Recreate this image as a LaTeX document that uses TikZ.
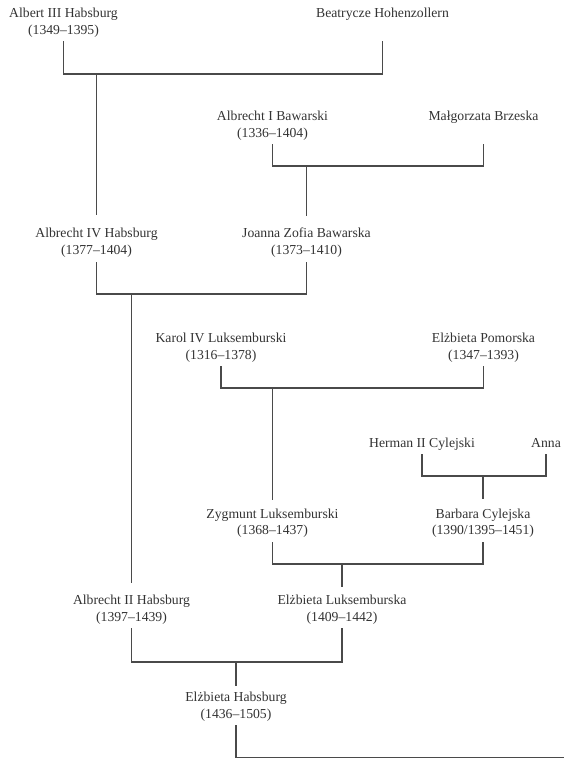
\documentclass[tikz,border=0pt]{standalone}
\usepackage{fontspec}
\setmainfont{Liberation Serif}
\usetikzlibrary{calc}
\definecolor{txt}{HTML}{333333}
\definecolor{ln}{HTML}{4a4a4a}
\tikzset{
  person/.style={align=center, inner sep=0pt, text=txt,
    font=\fontsize{13.7}{16.5}\selectfont},
  link/.style={draw=ln, line width=1.1pt, line cap=rect}
}
\newcommand{\pl}[2]{\strut #1\\\strut #2}
\newcommand{\ps}[1]{\strut #1}
\begin{document}
\begin{tikzpicture}[x=1pt, y=-1pt]
\useasboundingbox (0,0) rectangle (563,759);
% people
\node[person] (alb3) at (63.5,22.5)  {\pl{Albert III Habsburg}{(1349–1395)}};
\node[person] (bea)  at (382.5,14.2) {\ps{Beatrycze Hohenzollern}};
\node[person] (ab1)  at (272.5,125.5) {\pl{Albrecht I Bawarski}{(1336–1404)}};
\node[person] (mal)  at (483.5,117.2) {\ps{Małgorzata Brzeska}};
\node[person] (alb4) at (96.5,242.5) {\pl{Albrecht IV Habsburg}{(1377–1404)}};
\node[person] (joa)  at (306.5,242.5) {\pl{Joanna Zofia Bawarska}{(1373–1410)}};
\node[person] (kar)  at (221,347.5) {\pl{Karol IV Luksemburski}{(1316–1378)}};
\node[person] (elp)  at (483.5,347.5) {\pl{Elżbieta Pomorska}{(1347–1393)}};
\node[person] (her)  at (422,444.2) {\ps{Herman II Cylejski}};
\node[person] (ann)  at (546,444.2) {\ps{Anna}};
\node[person] (zyg)  at (272.5,523) {\pl{Zygmunt Luksemburski}{(1368–1437)}};
\node[person] (bar)  at (483,523) {\pl{Barbara Cylejska}{(1390/1395–1451)}};
\node[person] (alb2) at (131.5,609.5) {\pl{Albrecht II Habsburg}{(1397–1439)}};
\node[person] (ell)  at (342,609.5) {\pl{Elżbieta Luksemburska}{(1409–1442)}};
\node[person] (elh)  at (236,706.5) {\pl{Elżbieta Habsburg}{(1436–1505)}};
% levels: s = start of parent lines, h = bar, e = end of child line
\coordinate (s1) at (0,42);  \coordinate (h1) at (0,74);  \coordinate (e1) at (0,214);
\coordinate (s2) at (0,145); \coordinate (h2) at (0,166); \coordinate (e2) at (0,215);
\coordinate (s3) at (0,263); \coordinate (h3) at (0,294); \coordinate (e3) at (0,582);
\coordinate (s4) at (0,367); \coordinate (h4) at (0,388); \coordinate (e4) at (0,499);
\coordinate (s5) at (0,455); \coordinate (h5) at (0,476); \coordinate (e5) at (0,498);
\coordinate (s6) at (0,543); \coordinate (h6) at (0,564); \coordinate (e6) at (0,586);
\coordinate (s7) at (0,629); \coordinate (h7) at (0,662); \coordinate (e7) at (0,685);
\coordinate (s8) at (0,726); \coordinate (edge) at (563,757.8);
% families
\draw[link] (alb3 |- s1) |- (alb4 |- h1) -| (bea |- s1);
\draw[link] (alb4 |- h1) -- (alb4 |- e1);
\draw[link] (ab1 |- s2) |- (joa |- h2) -| (mal |- s2);
\draw[link] (joa |- h2) -- (joa |- e2);
\draw[link] (alb4 |- s3) |- (alb2 |- h3) -| (joa |- s3);
\draw[link] (alb2 |- h3) -- (alb2 |- e3);
\draw[link] (kar |- s4) |- (zyg |- h4) -| (elp |- s4);
\draw[link] (zyg |- h4) -- (zyg |- e4);
\draw[link] (her |- s5) |- (bar |- h5) -| (ann |- s5);
\draw[link] (bar |- h5) -- (bar |- e5);
\draw[link] (zyg |- s6) |- (ell |- h6) -| (bar |- s6);
\draw[link] (ell |- h6) -- (ell |- e6);
\draw[link] (alb2 |- s7) |- (elh |- h7) -| (ell |- s7);
\draw[link] (elh |- h7) -- (elh |- e7);
\draw[link] (elh |- s8) |- (edge);
\end{tikzpicture}
\end{document}
